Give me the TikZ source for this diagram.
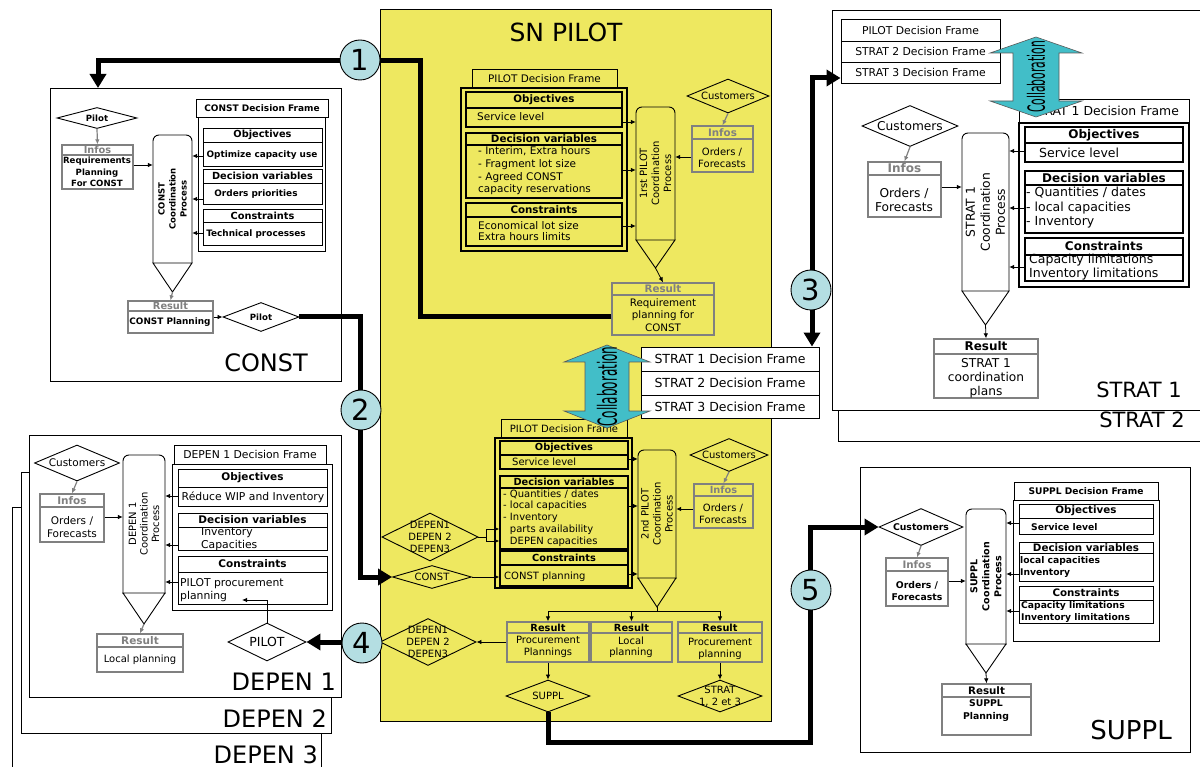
\documentclass[tikz,border=0pt]{standalone}
\usepackage{fontspec}
\setmainfont{DejaVu Sans}
\usepackage{graphicx}
\usetikzlibrary{arrows.meta,shapes.geometric}
\definecolor{pyellow}{RGB}{238,232,96}
\definecolor{ccyan}{RGB}{180,222,226}
\definecolor{collab}{RGB}{66,190,200}
\definecolor{ggray}{RGB}{128,128,128}
\newcommand\fz[2]{\fontsize{#1}{#2}\selectfont}
\newcommand\procshape[6]{%
  \begin{scope}
    \clip (#2-3,#3-3) rectangle (#4+3,#5);
    \draw[procline,rounded corners=6pt] (#2,#3) rectangle (#4,#5+14);
  \end{scope}
  \draw[procline] (#2,#5) -- (#4,#5) -- ({(#2+#4)/2},#6) -- cycle;
  \node[minimum width={#4-#2},minimum height={#5-#3}] (#1) at ({(#2+#4)/2},{(#3+#5)/2}) {};
  \coordinate (#1-tip) at ({(#2+#4)/2},#6);}
\newcommand\secbox[8][]{%
  \begin{scope}[#1]
  \node[secb,minimum width={#5-#3},minimum height={#6-#4}] (#2) at ({(#3+#5)/2},{(#4+#6)/2}) {};
  \draw[secl] (#3,#7) -- (#5,#7);
  \node[hdr] (#2-h) at ({(#3+#5)/2},{(#4+#7)/2}) {#8};
  \end{scope}}
\newcommand\tbox[7][]{%
  \node[draw,line width=0.9pt,minimum width={#5-#3},minimum height={#6-#4},#1] (#2) at ({(#3+#5)/2},{(#4+#6)/2}) {#7};}
\newcommand\dmd[7][]{%
  \node[dia,minimum width={#5},minimum height={#6}] (#2) at (#3,#4) {};
  \node[dtxt,#1] (#2-t) at (#2.center) {#7};}
\newcommand\collab[9]{%
  \draw[fill=collab,draw=black!65,line width=0.6pt] (#2,#3) -- (#2+#5,#3+#7) -- (#2+#6,#3+#7) -- (#2+#6,#4-#7) -- (#2+#5,#4-#7) -- (#2,#4) -- (#2-#5,#4-#7) -- (#2-#6,#4-#7) -- (#2-#6,#3+#7) -- (#2-#5,#3+#7) -- cycle;
  \node[rotate=90] (#1) at (#2,{(#3+#4)/2}) {\resizebox{#8pt}{#9pt}{Collaboration}};}
\begin{document}
\begin{tikzpicture}[x=1pt,y=-1pt,
  every node/.style={inner sep=0pt,align=center},
  secb/.style={draw,line width=0.9pt},
  secl/.style={line width=0.9pt},
  hdr/.style={font=\bfseries\fz{10}{11}},
  procline/.style={line width=0.9pt},
  dia/.style={diamond,draw,line width=0.9pt},
  dtxt/.style={font=\fz{10}{12}},
  arr/.style={line width=0.8pt,-{Latex[length=5pt,width=4.5pt]}},
  garr/.style={arr,draw=ggray,line width=1.2pt},
  thk/.style={line width=5pt,-{Triangle[length=14pt,width=16pt]}},
  circ/.style={circle,draw,fill=ccyan,line width=0.9pt,minimum size=40pt,font=\fz{29}{29}},
  big/.style={font=\fz{24}{24},anchor=base east},
  blockfr/.style={draw,fill=white,line width=0.9pt},
  gbox/.style={secb/.append style={draw=ggray,line width=1.3pt},secl/.append style={draw=ggray,line width=1.3pt},hdr/.append style={text=ggray}},
  bbox/.style={secb/.append style={draw=ggray,line width=1.3pt},secl/.append style={draw=ggray,line width=1.3pt}},
]
\useasboundingbox (0,0) rectangle (1200,767);
% ---------- block frames ----------
\draw[blockfr] (12,775) -- (12,507) -- (321,507) -- (321,775);
\draw[blockfr] (21,472) rectangle (331,733);
\draw[blockfr] (29,435) rectangle (341,697);
\draw[blockfr] (838,30) rectangle (1210,441);
\draw[blockfr] (832,10) rectangle (1210,410);
\draw[blockfr] (50,88) rectangle (341,381);
\draw[blockfr] (860,467) rectangle (1190,752);
\draw[fill=pyellow,line width=0.9pt] (380,9) rectangle (771,721);
\node[font=\fz{25}{25}] (sntitle) at (566,32) {SN PILOT};
\node[big] (clab) at (308,372) {CONST};
\node[big,font=\fz{21}{21}] (s1lab) at (1182,397) {STRAT 1};
\node[big,font=\fz{21}{21}] (s2lab) at (1185,428) {STRAT 2};
\node[big] (d1lab) at (336,690) {DEPEN 1};
\node[big] (d2lab) at (327,727) {DEPEN 2};
\node[big] (d3lab) at (318,763) {DEPEN 3};
\node[big,font=\fz{26}{26}] (sulab) at (1172,739) {SUPPL};

% ---------- CONST ----------
\begin{scope}[hdr/.style={font=\bfseries\fz{9.8}{11}},dtxt/.style={font=\bfseries\fz{8.6}{10}}]
\tbox[font=\bfseries\fz{9}{11}]{ctitle}{196}{99}{328}{117}{CONST Decision Frame}
\tbox{ccont}{198}{117}{325}{251}{}
\secbox{cobj}{203}{128}{322}{166}{142}{Objectives}
\node[font=\bfseries\fz{8.9}{11}] (cobj-b) at (262,155) {Optimize capacity use};
\secbox{cdv}{203}{169}{322}{204}{183}{Decision variables}
\node[font=\bfseries\fz{8.9}{11}] (cdv-b) at (256,194) {Orders priorities};
\secbox{ccon}{203}{209}{322}{245}{222}{Constraints}
\node[font=\bfseries\fz{8.9}{11}] (ccon-b) at (256,234) {Technical processes};
\procshape{cproc}{153}{135}{192}{263}{292}
\node[rotate=90,font=\bfseries\fz{8.5}{11}] (cproc-t) at (cproc) {CONST\\Coordination\\Process};
\secbox[gbox]{cinf}{62}{145}{133}{189}{155}{Infos}
\node[font=\bfseries\fz{8.6}{11.5}] (cinf-b) at (97,172) {Requirements\\Planning\\For CONST};
\dmd{cd1}{97}{118}{80}{21}{Pilot}
\secbox[gbox]{cres}{128}{301}{213}{333}{311}{Result}
\node[font=\bfseries\fz{8.9}{11}] (cres-b) at (170,322) {CONST Planning};
\dmd{cd2}{261}{317}{76}{29}{Pilot}
\draw[garr] (cd1.south) -- (cinf.north);
\draw[arr] (cinf.east |- 0,165) -- (cproc.west |- 0,165);
\draw[arr] (cobj.west |- 0,156) -- (cproc.east |- 0,156);
\draw[arr] (cdv.west |- 0,199) -- (cproc.east |- 0,199);
\draw[arr] (ccon.west |- 0,233) -- (cproc.east |- 0,233);
\draw[garr] (cproc-tip) -- (cres.north);
\draw[arr] (cres.east) -- (cd2.west);
\end{scope}

% ---------- PILOT upper ----------
\begin{scope}[hdr/.style={font=\bfseries\fz{10.3}{12}},secb/.style={draw,line width=1.3pt},secl/.style={line width=1.3pt}]
\tbox[font=\fz{10.4}{12}]{p1title}{472}{69}{617}{88}{PILOT Decision Frame}
\tbox[line width=1.5pt]{p1cont}{461}{88}{627}{251}{}
\secbox{p1obj}{466}{92}{622}{127}{108}{Objectives}
\node[font=\fz{10.5}{12.7},anchor=west] (p1obj-b) at (477,117) {Service level};
\secbox{p1dv}{466}{133}{622}{198}{145}{Decision variables}
\node[font=\fz{10.5}{12.7},anchor=west,align=left] (p1dv-b) at (478,171) {- Interim, Extra hours\\- Fragment lot size\\- Agreed CONST\\capacity reservations};
\secbox{p1con}{466}{203}{622}{246}{217}{Constraints}
\node[font=\fz{10.5}{11.7},anchor=west,align=left] (p1con-b) at (478,231) {Economical lot size\\Extra hours limits};
\procshape{p1proc}{636}{107}{675}{240}{268}
\node[rotate=90,font=\fz{10}{12}] (p1proc-t) at (p1proc) {1rst PILOT\\Coordination\\Process};
\dmd{p1cust}{728}{96}{82}{34}{Customers}
\secbox[gbox]{p1inf}{692}{126}{753}{172}{139}{Infos}
\node[font=\fz{10}{12.5}] (p1inf-b) at (722,158) {Orders /\\Forecasts};
\secbox[gbox]{p1res}{612}{283}{714}{335}{295}{Result}
\node[font=\fz{10.3}{12.5}] (p1res-b) at (663,315) {Requirement\\planning for\\CONST};
\draw[arr] (p1obj.east |- 0,122) -- (p1proc.west |- 0,122);
\draw[arr] (p1dv.east |- 0,170) -- (p1proc.west |- 0,170);
\draw[arr] (p1con.east |- 0,226) -- (p1proc.west |- 0,226);
\draw[garr] (p1cust.south) -- (p1inf.north);
\draw[arr] (p1inf.west |- 0,157) -- (p1proc.east |- 0,157);
\draw[arr] (p1proc-tip) -- (p1res.north);
\end{scope}

% ---------- PILOT lower ----------
\begin{scope}[hdr/.style={font=\bfseries\fz{9.8}{11}},secb/.style={draw,line width=1.3pt},secl/.style={line width=1.3pt}]
\tbox[font=\fz{10}{12}]{p2title}{501}{419}{627}{438}{PILOT Decision Frame}
\tbox[line width=1.5pt]{p2cont}{495}{438}{632}{588}{}
\secbox{p2obj}{500}{441}{628}{469}{455}{Objectives}
\node[font=\fz{10}{12},anchor=west] (p2obj-b) at (512,462) {Service level};
\secbox{p2dv}{500}{476}{628}{549}{488}{Decision variables}
\node[font=\fz{10}{11.8},anchor=west,align=left] (p2dv-b) at (503,518) {- Quantities / dates\\- local capacities\\- Inventory\\\hphantom{- }parts availability\\\hphantom{- }DEPEN capacities};
\secbox{p2con}{500}{551}{628}{586}{565}{Constraints}
\node[font=\fz{10}{12},anchor=west] (p2con-b) at (504,577) {CONST planning};
\procshape{p2proc}{638}{450}{676}{578}{607}
\node[rotate=90,font=\fz{10}{12}] (p2proc-t) at (p2proc) {2nd PILOT\\Coordination\\Process};
\dmd{p2cust}{729}{455}{78}{33}{Customers}
\secbox[gbox]{p2inf}{694}{484}{753}{528}{496}{Infos}
\node[font=\fz{10}{12.5}] (p2inf-b) at (723,514) {Orders /\\Forecasts};
\dmd{dd1}{430}{537}{96}{48}{DEPEN1\\DEPEN 2\\DEPEN3}
\dmd{cdm}{432}{577}{79}{23}{CONST}
\draw[arr] (p2obj.east |- 0,459) -- (p2proc.west |- 0,459);
\draw[arr] (p2dv.east |- 0,506) -- (p2proc.west |- 0,506);
\draw[arr] (p2con.east |- 0,574) -- (p2proc.west |- 0,574);
\draw[garr] (p2cust.south) -- (p2inf.north);
\draw[arr] (p2inf.west |- 0,509) -- (p2proc.east |- 0,509);
\coordinate (brk) at (486,537);
\draw[line width=0.8pt] (dd1.east) -- (brk);
\draw[line width=0.8pt] (486,529) -- (486,541);
\draw[arr] (486,529) -- (p2dv.west |- 0,529);
\draw[arr] (486,541) -- (p2dv.west |- 0,541);
\draw[arr] (cdm.east) -- (p2con.west |- cdm.east);
% results
\secbox[bbox]{r1}{507}{622}{589}{662}{633}{Result}
\node[font=\fz{10}{11.5}] (r1-b) at (548,647) {Procurement\\Plannings};
\secbox[bbox]{r2}{591}{622}{672}{662}{633}{Result}
\node[font=\fz{10}{11.5}] (r2-b) at (631,647) {Local\\planning};
\secbox[bbox]{r3}{678}{622}{762}{662}{633}{Result}
\node[font=\fz{10}{11.5}] (r3-b) at (720,649) {Procurement\\planning};
\draw[line width=0.8pt] (p2proc-tip) -- (p2proc-tip |- 0,611);
\draw[line width=0.8pt] (r1.north |- 0,611) -- (r3.north |- 0,611);
\draw[arr] (r1.north |- 0,611) -- (r1.north);
\draw[arr] (r2.north |- 0,611) -- (r2.north);
\draw[arr] (r3.north |- 0,611) -- (r3.north);
\dmd{dd2}{428}{642}{96}{47}{DEPEN1\\DEPEN 2\\DEPEN3}
\dmd{sd}{548}{696}{84}{32}{SUPPL}
\dmd{std}{720}{696}{84}{32}{STRAT\\1, 2 et 3}
\draw[arr] (r1.west) -- (dd2.east);
\draw[arr] (r1.south) -- (sd.north);
\draw[arr] (r3.south) -- (std.north);
\end{scope}

% ---------- DEPEN 1 ----------
\begin{scope}[hdr/.style={font=\bfseries\fz{10.5}{12}},dtxt/.style={font=\fz{10.5}{12}}]
\tbox[font=\fz{10.8}{12}]{d1title}{174}{445}{326}{464}{DEPEN 1 Decision Frame}
\tbox{d1cont}{172}{464}{332}{610}{}
\secbox{d1obj}{178}{469}{327}{506}{487}{Objectives}
\node[font=\fz{10.8}{13}] (d1obj-b) at (253,497) {Réduce WIP and Inventory};
\secbox{d1dv}{178}{513}{327}{550}{527}{Decision variables}
\node[font=\fz{10.8}{13},anchor=west,align=left] (d1dv-b) at (201,539) {Inventory\\Capacities};
\secbox{d1con}{178}{556}{327}{604}{572}{Constraints}
\node[font=\fz{10.8}{13},anchor=west,align=left] (d1con-b) at (180,590) {PILOT procurement\\planning};
\procshape{d1proc}{123}{455}{165}{593}{624}
\node[rotate=90,font=\fz{10}{11.5}] (d1proc-t) at (d1proc) {DEPEN 1\\Coordination\\Process};
\dmd{d1cust}{77}{463}{85}{36}{Customers}
\secbox[gbox]{d1inf}{40}{494}{104}{542}{507}{Infos}
\node[font=\fz{10.5}{12.5}] (d1inf-b) at (72,527) {Orders /\\Forecasts};
\secbox[gbox]{d1res}{97}{634}{183}{672}{647}{Result}
\node[font=\fz{10}{12}] (d1res-b) at (140,660) {Local planning};
\dmd[font=\fz{12.5}{13}]{dpil}{267}{642}{78}{38}{PILOT}
\draw[arr] (d1obj.west |- 0,496) -- (d1proc.east |- 0,496);
\draw[arr] (d1dv.west |- 0,545) -- (d1proc.east |- 0,545);
\draw[arr] (d1con.west |- 0,582) -- (d1proc.east |- 0,582);
\draw[garr] (d1cust.south) -- (d1inf.north);
\draw[arr] (d1inf.east |- 0,517) -- (d1proc.west |- 0,517);
\draw[garr] (d1proc-tip) -- (d1res.north);
\coordinate (d1plan) at (242,600);
\draw[arr] (dpil.north) |- (d1plan);
\end{scope}

% ---------- STRAT 1 ----------
\begin{scope}[hdr/.style={font=\bfseries\fz{12}{13}},dtxt/.style={font=\fz{12.2}{14}},secb/.style={draw,line width=1.1pt},secl/.style={line width=1.1pt}]
\tbox[font=\fz{10.8}{12},fill=white]{ts1}{841}{19}{1000}{41}{PILOT Decision Frame}
\tbox[font=\fz{10.8}{12},fill=white]{ts2}{841}{41}{1000}{62}{STRAT 2 Decision Frame}
\tbox[font=\fz{10.8}{12},fill=white]{ts3}{841}{62}{1000}{83}{STRAT 3 Decision Frame}
\tbox[font=\fz{12.4}{14}]{s1title}{1019}{99}{1189}{123}{STRAT 1 Decision Frame}
\tbox[line width=1.2pt]{s1cont}{1019}{123}{1189}{287}{}
\secbox{s1obj}{1025}{127}{1183}{162}{143}{Objectives}
\node[font=\fz{12.5}{14.5},anchor=west] (s1obj-b) at (1039,153) {Service level};
\secbox{s1dv}{1025}{171}{1183}{233}{185}{Decision variables}
\node[font=\fz{12.5}{14.5},anchor=west,align=left] (s1dv-b) at (1026,208) {- Quantities / dates\\- local capacities\\- Inventory};
\secbox{s1con}{1025}{238}{1183}{281}{255}{Constraints}
\node[font=\fz{12.5}{14},anchor=west,align=left] (s1con-b) at (1029,267) {Capacity limitations\\Inventory limitations};
\procshape{s1proc}{962}{133}{1009}{291}{325}
\node[rotate=90,font=\fz{12.3}{15}] (s1proc-t) at (s1proc) {STRAT 1\\Coordination\\Process};
\dmd{s1cust}{910}{126}{96}{41}{Customers}
\secbox[gbox]{s1inf}{868}{162}{941}{217}{175}{Infos}
\node[font=\fz{12.2}{14}] (s1inf-b) at (904,200) {Orders /\\Forecasts};
\secbox[bbox]{s1res}{934}{339}{1038}{398}{354}{Result}
\node[font=\fz{12.2}{14}] (s1res-b) at (986,378) {STRAT 1\\coordination\\plans};
\draw[arr] (s1obj.west |- 0,151) -- (s1proc.east |- 0,151);
\draw[arr] (s1dv.west |- 0,208) -- (s1proc.east |- 0,208);
\draw[arr] (s1con.west |- 0,267) -- (s1proc.east |- 0,267);
\draw[garr] (s1cust.south) -- (s1inf.north);
\draw[arr] (s1inf.east |- 0,187) -- (s1proc.west |- 0,187);
\draw[arr] (s1proc-tip) -- (s1res.north);
\end{scope}

% ---------- SUPPL ----------
\begin{scope}[hdr/.style={font=\bfseries\fz{10.3}{11}},dtxt/.style={font=\bfseries\fz{9.3}{11}}]
\tbox[font=\bfseries\fz{9.1}{11}]{sutitle}{1014}{482}{1158}{500}{SUPPL Decision Frame}
\tbox{sucont}{1013}{500}{1159}{641}{}
\secbox{suobj}{1019}{504}{1153}{534}{518}{Objectives}
\node[font=\bfseries\fz{9.2}{11},anchor=west] (suobj-b) at (1031,527) {Service level};
\secbox{sudv}{1019}{542}{1153}{581}{553}{Decision variables}
\node[font=\bfseries\fz{9.2}{12.5},anchor=west,align=left] (sudv-b) at (1020,567) {local capacities\\Inventory};
\secbox{sucon}{1019}{586}{1153}{623}{600}{Constraints}
\node[font=\bfseries\fz{9.2}{11.2},anchor=west,align=left] (sucon-b) at (1021,612) {Capacity limitations\\Inventory limitations};
\procshape{suproc}{966}{509}{1006}{644}{673}
\node[rotate=90,font=\bfseries\fz{9.5}{12}] (suproc-t) at (suproc) {SUPPL\\Coordination\\Process};
\dmd{scust}{921}{527}{84}{37}{Customers}
\secbox[gbox]{suinf}{886}{558}{948}{606}{571}{Infos}
\node[font=\bfseries\fz{9.3}{11.5}] (suinf-b) at (917,591) {Orders /\\Forecasts};
\secbox[bbox]{sures}{942}{684}{1031}{735}{697}{Result}
\node[font=\bfseries\fz{9.3}{13}] (sures-b) at (986,711) {SUPPL\\Planning};
\draw[arr] (suobj.west |- 0,523) -- (suproc.east |- 0,523);
\draw[arr] (sudv.west |- 0,574) -- (suproc.east |- 0,574);
\draw[arr] (sucon.west |- 0,611) -- (suproc.east |- 0,611);
\draw[garr] (scust.south) -- (suinf.north);
\draw[arr] (suinf.east |- 0,581) -- (suproc.west |- 0,581);
\draw[arr] (suproc-tip) -- (sures.north);
\end{scope}

% ---------- middle stack ----------
\tbox[font=\fz{12.5}{14},fill=white]{ms1}{641}{347}{819}{371}{STRAT 1 Decision Frame}
\tbox[font=\fz{12.5}{14},fill=white]{ms2}{641}{371}{819}{395}{STRAT 2 Decision Frame}
\tbox[font=\fz{12.5}{14},fill=white]{ms3}{641}{395}{819}{418}{STRAT 3 Decision Frame}

% ---------- thick connectors ----------
\coordinate (cboxtop) at (98,88);
\draw[thk] (p1res.west |- 0,317) -| (420,61) -| (cboxtop);
\draw[thk] (cd2.east) -- (360,317) |- (cdm.west);
\draw[thk,{Triangle[length=14pt,width=16pt]}-{Triangle[length=14pt,width=16pt]}] (ts3.west |- 0,78) -| (ms1.north -| 812,0);
\draw[thk] (dd2.west) -- (dpil.east);
\draw[thk] (sd.south) |- (810,742) |- (scust.west);
\node[circ] (n1) at (360,60) {1};
\node[circ] (n2) at (361,410) {2};
\node[circ] (n3) at (811,290) {3};
\node[circ] (n4) at (362,643) {4};
\node[circ] (n5) at (811,590) {5};

% ---------- collaboration arrows ----------
\collab{col1}{1036}{37}{117}{46}{23}{16}{72}{18}
\collab{col2}{607}{345}{428}{43}{22}{17}{80}{20}
\end{tikzpicture}
\end{document}
